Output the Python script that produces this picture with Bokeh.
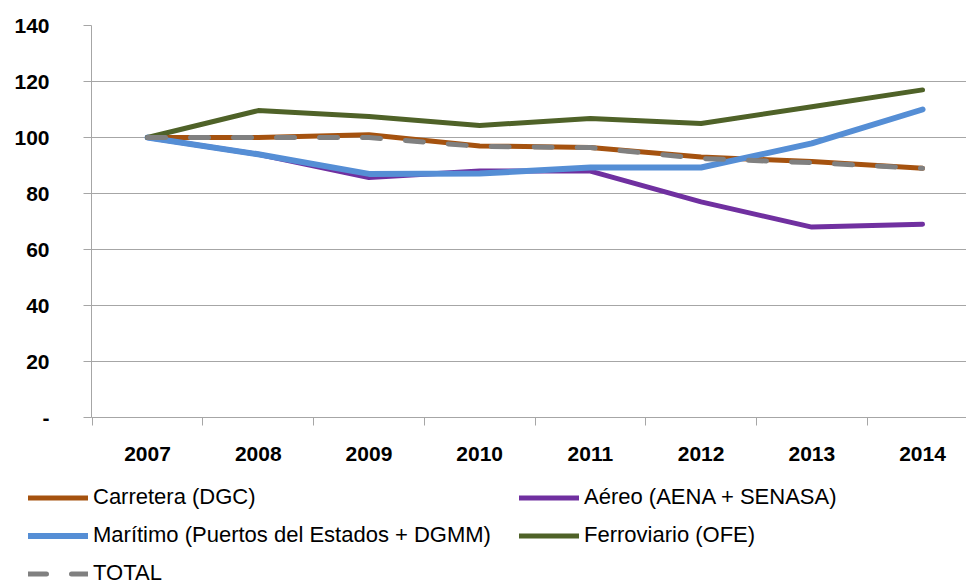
from bokeh.plotting import figure
from bokeh.models import Range1d, FixedTicker, Legend, LegendItem
from bokeh.embed import file_html
from bokeh.resources import INLINE

years = [2007, 2008, 2009, 2010, 2011, 2012, 2013, 2014]
carretera = [100, 100, 101, 97, 96.4, 93, 91.4, 89]
aereo = [100, 94, 85.7, 88, 88, 77, 68, 69]
maritimo = [100, 94, 87, 87.1, 89.3, 89.3, 97.9, 110]
ferroviario = [100, 109.6, 107.5, 104.3, 106.8, 105, 111, 117]
total = [100, 100, 100, 96.8, 96.4, 92.5, 91, 89]
y_ticks = [0, 20, 40, 60, 80, 100, 120, 140]
y_labels = ["-", "20", "40", "60", "80", "100", "120", "140"]

series = [
    ("Carretera (DGC)", carretera, dict(line_color="#a5520f", line_width=5)),
    ("Aéreo (AENA + SENASA)", aereo, dict(line_color="#7030a0", line_width=5)),
    ("Marítimo (Puertos del Estados + DGMM)", maritimo, dict(line_color="#558ed5", line_width=6)),
    ("Ferroviario (OFE)", ferroviario, dict(line_color="#4f6228", line_width=5)),
    ("TOTAL", total, dict(line_color="#808080", line_width=5, line_dash="18 25")),
]

p = figure(width=966, height=470, output_backend="svg", toolbar_location=None,
           x_range=Range1d(2006.494, 2014.397), y_range=Range1d(0, 140),
           min_border_left=91, min_border_top=25, min_border_right=0, min_border_bottom=53)
p.outline_line_color = None

for name, vals, style in series:
    p.line(years, vals, line_cap="round", line_join="round", **style)

p.xgrid.visible = False
p.ygrid.grid_line_color = "#a6a6a6"
p.ygrid.grid_line_width = 1

p.xaxis.ticker = FixedTicker(ticks=years, minor_ticks=[y - 0.5 for y in years] + [2014.5])
p.xaxis.major_label_overrides = {y: str(y) for y in years}
p.xaxis.major_tick_out = 0
p.xaxis.major_tick_in = 0
p.xaxis.minor_tick_out = 8
p.xaxis.minor_tick_in = 0
p.xaxis.minor_tick_line_color = "#a6a6a6"
p.xaxis.axis_line_color = "#a6a6a6"
p.xaxis.major_label_standoff = 21

p.yaxis.ticker = FixedTicker(ticks=y_ticks, minor_ticks=[])
p.yaxis.major_label_overrides = dict(zip(y_ticks, y_labels))
p.yaxis.major_tick_out = 8
p.yaxis.major_tick_in = 0
p.yaxis.major_tick_line_color = "#a6a6a6"
p.yaxis.axis_line_color = "#a6a6a6"
p.yaxis.major_label_standoff = 34
p.yaxis.bounds = (-2.9, 140)

for ax in (p.xaxis, p.yaxis):
    ax.major_label_text_font = "Liberation Sans"
    ax.major_label_text_font_style = "bold"
    ax.major_label_text_font_size = "21px"
    ax.major_label_text_color = "#000000"

# legend panel: same series, drawn outside its visible range so only the legend shows
lp = figure(width=966, height=116, output_backend="svg", toolbar_location=None,
            x_range=Range1d(2006.494, 2014.397), y_range=Range1d(1000, 1001),
            x_axis_type=None, y_axis_type=None,
            min_border_left=0, min_border_top=0, min_border_right=0, min_border_bottom=0)
lp.outline_line_color = None
lp.xgrid.visible = False
lp.ygrid.visible = False
items = []
for name, vals, style in series:
    r = lp.line(years, vals, line_cap="round", line_join="round", **style)
    items.append(LegendItem(label=name, renderers=[r]))

legend = Legend(items=items, ncols=2, orientation="horizontal", location=(28, 0))
legend.label_text_font = "Liberation Sans"
legend.label_text_font_size = "22px"
legend.label_text_color = "#000000"
legend.glyph_width = 60
legend.glyph_height = 19
legend.label_height = 19
legend.label_width = 414
legend.label_standoff = 5
legend.spacing = 12
legend.padding = 0
legend.margin = 0
legend.border_line_color = None
legend.background_fill_alpha = 0
lp.add_layout(legend, "center")

open("out.html", "w").write(file_html([p, lp], INLINE))
